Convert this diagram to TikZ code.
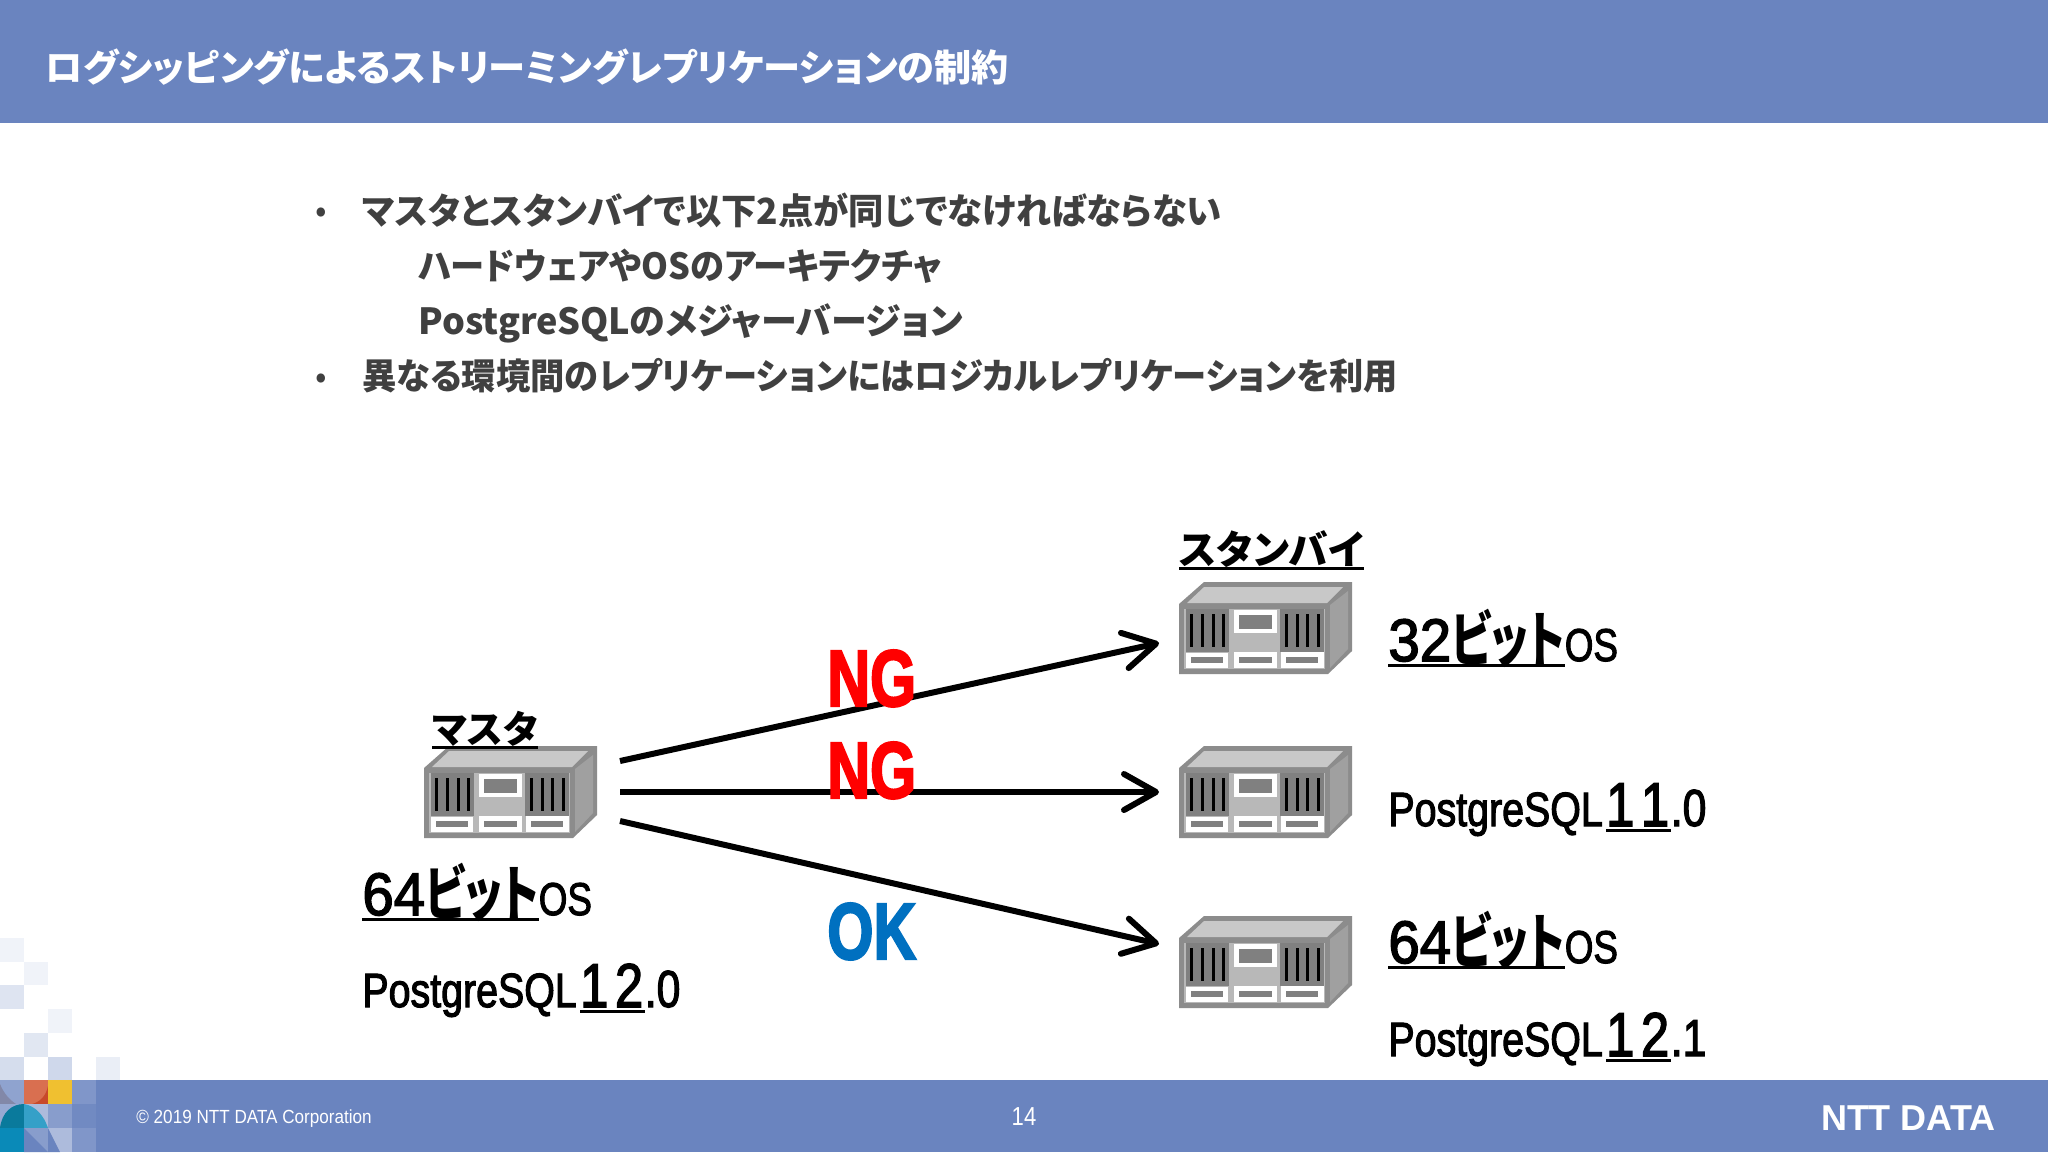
\documentclass[tikz,border=0pt]{standalone}
\usepackage{graphicx}
\usepackage{fontspec}
\setmainfont{Noto Sans CJK JP}[RawFeature={+palt}]
\newfontfamily\latinfont{Liberation Sans}
\newfontfamily\latinmed{Liberation Sans}[FakeBold=2.5]
\newfontfamily\latinheavy{Liberation Sans}[BoldFeatures={FakeBold=3}]
\usetikzlibrary{arrows.meta}
\definecolor{barblue}{HTML}{6A84BF}
\definecolor{bodygray}{HTML}{404040}
\definecolor{okblue}{HTML}{0070C0}
\definecolor{srvframe}{HTML}{8C8C8C}
\definecolor{srvtop}{HTML}{C8C8C8}
\definecolor{srvside}{HTML}{A0A0A0}
\definecolor{srvfront}{HTML}{B8B8B8}
\definecolor{srvpanel}{HTML}{808080}
\definecolor{tileslate}{HTML}{8288A8}
\definecolor{tilered}{HTML}{D96F50}
\definecolor{tiledark}{HTML}{C8492A}
\definecolor{tileyellow}{HTML}{F0C030}
\definecolor{tileteal}{HTML}{0A7A9C}
\definecolor{tilesky}{HTML}{35A0C8}
\definecolor{tileblue}{HTML}{0A8AB8}
\newcommand\fs[1]{\fontsize{#1}{#1}\selectfont}
\newcommand\ulbox[1]{\setbox0\hbox{#1}\rlap{\rule[-3pt]{\wd0}{1.5pt}}\box0}
\newcommand\bitlabel[1]{\ulbox{\scalebox{.94}[1]{\fs{30}\latinmed #1}\scalebox{.73}[1]{\fs{30}\bfseries ビット}}\scalebox{.8}[1]{\fs{23}\latinmed OS}}
\newcommand\pglabel[2]{\scalebox{.82}[1]{\fs{24}\latinmed PostgreSQL\kern2pt\ulbox{\fs{31}1\kern4pt #1\kern1pt}\fs{26}.#2}}
\newcommand\verdicttxt[1]{\scalebox{.74}[1]{\fs{40}\latinheavy\bfseries #1}}
\tikzset{
  txt/.style={inner sep=0pt,anchor=base west},
  bodytxt/.style={txt,text=bodygray,font=\fs{18}\bfseries},
  dottxt/.style={txt,text=bodygray,font=\fs{17}},
  conn/.style={line width=3pt,-{Straight Barb[length=16pt,width=18pt,line width=3pt,round]}},
  server/.pic={
    \fill [srvframe] (0,22)--(25,0)--(173,0)--(173,69)--(149,92)--(0,92)--cycle;
    \fill [srvtop] (8,21)--(25,5)--(164,5)--(148,21)--cycle;
    \fill [srvside] (151,23)--(169,9)--(169,67)--(151,86)--cycle;
    \fill [srvfront] (5,27) rectangle (146,87);
    \fill [srvpanel] (7,27) rectangle (50,70);
    \fill [srvpanel] (101,27) rectangle (145,70);
    \draw [line width=1.5pt] (12,32)--(12,65) (23,32)--(23,65) (34,32)--(34,65) (44,32)--(44,65);
    \draw [line width=1.5pt] (107,32)--(107,65) (118,32)--(118,65) (128,32)--(128,65) (139,32)--(139,65);
    \fill [white] (55,28) rectangle (98,51);
    \fill [srvpanel] (60,33) rectangle (93,47);
    \fill [white] (7,71) rectangle (49,86);
    \fill [white] (55,70) rectangle (98,86);
    \fill [white] (102,70) rectangle (145,86);
    \fill [srvpanel] (12,75) rectangle (44,81);
    \fill [srvpanel] (60,75) rectangle (93,81);
    \fill [srvpanel] (107,75) rectangle (139,81);
    \coordinate (-outup) at (196,15);
    \coordinate (-outmid) at (196,46);
    \coordinate (-outlow) at (196,75);
    \coordinate (-inup) at (-20,61);
    \coordinate (-inmid) at (-20,46);
    \coordinate (-inlow) at (-20,28);
  }
}
\begin{document}
\begin{tikzpicture}[x=0.5pt,y=-0.5pt]
  \useasboundingbox (0,0) rectangle (2048,1152);
  \fill [white] (0,0) rectangle (2048,1152);
  \fill [barblue] (0,0) rectangle (2048,123);
  \fill [barblue] (0,1080) rectangle (2048,1152);
  % mosaic
  \fill [barblue!10] (0,938) rectangle (24,962);
  \fill [barblue!10] (24,962) rectangle (48,985);
  \fill [barblue!22] (0,985) rectangle (24,1009);
  \fill [barblue!10] (48,1009) rectangle (72,1033);
  \fill [barblue!20] (24,1033) rectangle (48,1057);
  \fill [barblue!28] (0,1057) rectangle (24,1080);
  \fill [barblue!32] (48,1057) rectangle (72,1080);
  \fill [barblue!14] (96,1057) rectangle (120,1080);
  \fill [barblue!75!white] (0,1080) rectangle (24,1104);
  \fill [tileslate] (0,1084) .. controls (4,1094) and (10,1100) .. (16,1104)--(0,1104)--cycle;
  \fill [tilered] (24,1080) rectangle (48,1104);
  \fill [tiledark] (48,1086) .. controls (46,1096) and (40,1102) .. (32,1104)--(48,1104)--cycle;
  \fill [tileyellow] (48,1080) rectangle (72,1104);
  \fill [barblue!85!white] (72,1080) rectangle (96,1104);
  \fill [barblue!70!white] (0,1104) rectangle (24,1128);
  \fill [barblue!55!white] (24,1104) rectangle (48,1128);
  \fill [tileteal] (0,1128) .. controls (2,1112) and (12,1104) .. (24,1104)--(24,1128)--cycle;
  \fill [tilesky] (24,1104) .. controls (36,1106) and (44,1116) .. (48,1128)--(24,1128)--cycle;
  \fill [barblue!80!white] (48,1104) rectangle (72,1128);
  \fill [barblue!95!white] (72,1104) rectangle (96,1128);
  \fill [tileblue] (0,1128) rectangle (24,1152);
  \fill [barblue!80!white] (24,1128) rectangle (48,1152);
  \fill [barblue] (24,1128)--(24,1152)--(48,1152)--cycle;
  \fill [barblue!55!white] (48,1128) rectangle (72,1152);
  \fill [barblue] (48,1128)--(48,1152)--(60,1152)--cycle;
  \fill [barblue!85!white] (72,1128) rectangle (96,1152);
  % header and footer
  \node (title) [inner sep=0pt,anchor=west,text=white,font=\fs{18.6}\bfseries] at (45,67) {ログシッピングによるストリーミングレプリケーションの制約};
  \node (copyright) [inner sep=0pt,anchor=west,text=white] at (136,1119) {\scalebox{.9}[1]{\fs{9.5}\latinfont © 2019 NTT DATA Corporation}};
  \node (pageno) [inner sep=0pt,text=white] at (1024,1117) {\scalebox{.85}[1]{\fs{13}\latinfont 14}};
  \node (logo) [inner sep=0pt,anchor=east,text=white] at (1996,1118) {\fs{18}\latinfont\bfseries NTT DATA};
  % bullets
  \node (dot1) [dottxt] at (315,222) {•};
  \node (line1) [bodytxt] at (362,224) {\scalebox{.98}[1]{マスタとスタンバイで以下2点が同じでなければならない}};
  \node (line2) [bodytxt] at (418,279) {\scalebox{.952}[1]{ハードウェアやOSのアーキテクチャ}};
  \node (line3) [bodytxt] at (418,334) {PostgreSQLのメジャーバージョン};
  \node (dot2) [dottxt] at (315,388) {•};
  \node (line4) [bodytxt] at (362,389) {\scalebox{.952}[1]{異なる環境間のレプリケーションにはロジカルレプリケーションを利用}};
  % servers
  \pic (master) at (424,746) {server};
  \pic (standbyup) at (1179,582) {server};
  \pic (standbymid) at (1179,746) {server};
  \pic (standbylow) at (1179,916) {server};
  \node (masterlbl) [txt,font=\fs{19}\bfseries] at (432,743) {\ulbox{マスタ}};
  \node (standbylbl) [txt,font=\fs{19.8}\bfseries] at (1179,564) {\ulbox{スタンバイ}};
  \node (masteros) [txt] at (362,915) {\bitlabel{64}};
  \node (masterpg) [txt] at (362,1007) {\pglabel{2}{0}};
  \node (upos) [txt] at (1388,661) {\bitlabel{32}};
  \node (midpg) [txt] at (1388,826) {\pglabel{1}{0}};
  \node (lowos) [txt] at (1388,963) {\bitlabel{64}};
  \node (lowpg) [txt] at (1388,1056) {\pglabel{2}{1}};
  % connectors
  \draw [conn] (master-outup)--(standbyup-inup);
  \draw [conn] (master-outmid)--(standbymid-inmid);
  \draw [conn] (master-outlow)--(standbylow-inlow);
  \node (ngup) [txt,text=red] at (827,706) {\verdicttxt{NG}};
  \node (ngmid) [txt,text=red] at (827,798) {\verdicttxt{NG}};
  \node (ok) [txt,text=okblue] at (827,959) {\verdicttxt{OK}};
\end{tikzpicture}
\end{document}
